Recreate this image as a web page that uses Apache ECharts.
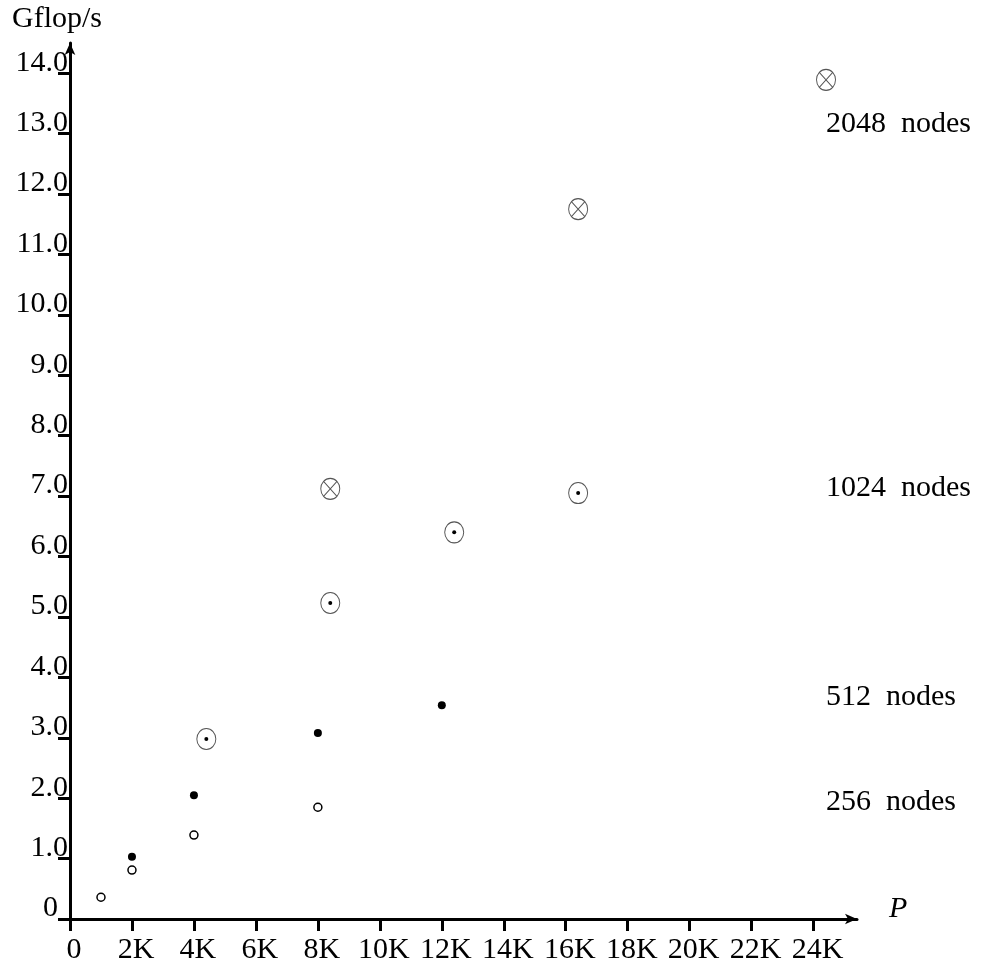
<!DOCTYPE html>
<html>
<head>
<meta charset="utf-8">
<title>Gflop/s vs P</title>
<script src="https://cdn.jsdelivr.net/npm/echarts@6/dist/echarts.min.js"></script>
<style>
  html, body { margin: 0; padding: 0; background: #fff; }
  #chart { width: 982px; height: 965px; }
</style>
</head>
<body>
<div id="chart"></div>
<script>
// tick positions (x in K processors)
var xTicks = [0, 2, 4, 6, 8, 10, 12, 14, 16, 18, 20, 22, 24];
var yTicks = [0, 1, 2, 3, 4, 5, 6, 7, 8, 9, 10, 11, 12, 13, 14];

// 256 nodes (open circles)
var nodes256 = [[1, 0.36], [2, 0.81], [4, 1.39], [8, 1.85]];
// 512 nodes (filled dots)
var nodes512 = [[2, 1.03], [4, 2.05], [8, 3.08], [12, 3.54]];
// 1024 nodes (circled dot)
var nodes1024 = [[4.4, 2.98], [8.4, 5.23], [12.4, 6.40], [16.4, 7.05]];
// 2048 nodes (circled cross)
var nodes2048 = [[8.4, 7.12], [16.4, 11.75], [24.4, 13.89]];

var FONT = '"Liberation Serif", "DejaVu Serif", serif';
var ELLIPSE = 'path://M0,10 A10,10 0 1,1 20,10 A10,10 0 1,1 0,10 Z';
var OTIMES = 'path://M0,10 A10,10 0 1,1 20,10 A10,10 0 1,1 0,10 Z M2.93,2.93 L17.07,17.07 M17.07,2.93 L2.93,17.07';

var myChart = echarts.init(document.getElementById('chart'));

var option = {
  animation: false,
  backgroundColor: '#fff',
  grid: { left: 70, right: 125, top: 43, bottom: 46 },
  xAxis: {
    type: 'value',
    min: 0,
    max: 25.4,
    splitLine: { show: false },
    axisLine: {
      lineStyle: { color: '#000', width: 3 },
      symbol: ['none', 'arrow'],
      symbolSize: [8, 12]
    },
    axisTick: {
      customValues: xTicks,
      length: 12,
      lineStyle: { color: '#000', width: 3 }
    },
    axisLabel: {
      customValues: xTicks,
      margin: 16,
      color: '#000',
      fontFamily: FONT,
      fontSize: 30,
      padding: [0, 0, 0, 8],
      formatter: function (v) { return v === 0 ? '0' : v + 'K'; }
    }
  },
  yAxis: {
    type: 'value',
    min: 0,
    max: 14.5,
    splitLine: { show: false },
    axisLine: {
      lineStyle: { color: '#000', width: 3 },
      symbol: ['none', 'arrow'],
      symbolSize: [8, 12]
    },
    axisTick: {
      customValues: yTicks,
      length: 12,
      lineStyle: { color: '#000', width: 3 }
    },
    axisLabel: {
      customValues: yTicks,
      margin: 2,
      color: '#000',
      fontFamily: FONT,
      fontSize: 30,
      lineHeight: 21,
      verticalAlign: 'bottom',
      formatter: function (v) { return v === 0 ? '{z|0}' : v.toFixed(1); },
      rich: {
        z: { fontFamily: FONT, fontSize: 30, lineHeight: 21, color: '#000', padding: [0, 10, 0, 0] }
      }
    }
  },
  series: [
    {
      name: '256 nodes',
      type: 'scatter',
      data: nodes256,
      symbol: 'circle',
      symbolSize: 8,
      itemStyle: { color: '#fff', borderColor: '#000', borderWidth: 1.5, opacity: 1 }
    },
    {
      name: '512 nodes',
      type: 'scatter',
      data: nodes512,
      symbol: 'circle',
      symbolSize: 8,
      itemStyle: { color: '#000', opacity: 1 }
    },
    {
      name: '1024 nodes',
      type: 'scatter',
      data: nodes1024,
      symbol: ELLIPSE,
      symbolSize: [19, 21],
      itemStyle: { color: 'transparent', borderColor: '#555', borderWidth: 1, opacity: 1 }
    },
    {
      name: '1024 nodes dot',
      type: 'scatter',
      data: nodes1024,
      symbol: 'circle',
      symbolSize: 4,
      itemStyle: { color: '#000', opacity: 1 }
    },
    {
      name: '2048 nodes',
      type: 'scatter',
      data: nodes2048,
      symbol: OTIMES,
      symbolSize: [19, 21],
      itemStyle: { color: 'transparent', borderColor: '#555', borderWidth: 1, opacity: 1 }
    }
  ],
  graphic: [
    { type: 'text', left: 12, top: 4, style: { text: 'Gflop/s', font: '30px ' + FONT, fill: '#000' } },
    { type: 'text', left: 889, top: 894, style: { text: 'P', font: 'italic 30px ' + FONT, fill: '#000' } },
    { type: 'text', left: 826, top: 109, style: { text: '2048  nodes', font: '30px ' + FONT, fill: '#000' } },
    { type: 'text', left: 826, top: 473, style: { text: '1024  nodes', font: '30px ' + FONT, fill: '#000' } },
    { type: 'text', left: 826, top: 682, style: { text: '512  nodes', font: '30px ' + FONT, fill: '#000' } },
    { type: 'text', left: 826, top: 787, style: { text: '256  nodes', font: '30px ' + FONT, fill: '#000' } }
  ]
};

myChart.setOption(option);
</script>
</body>
</html>
